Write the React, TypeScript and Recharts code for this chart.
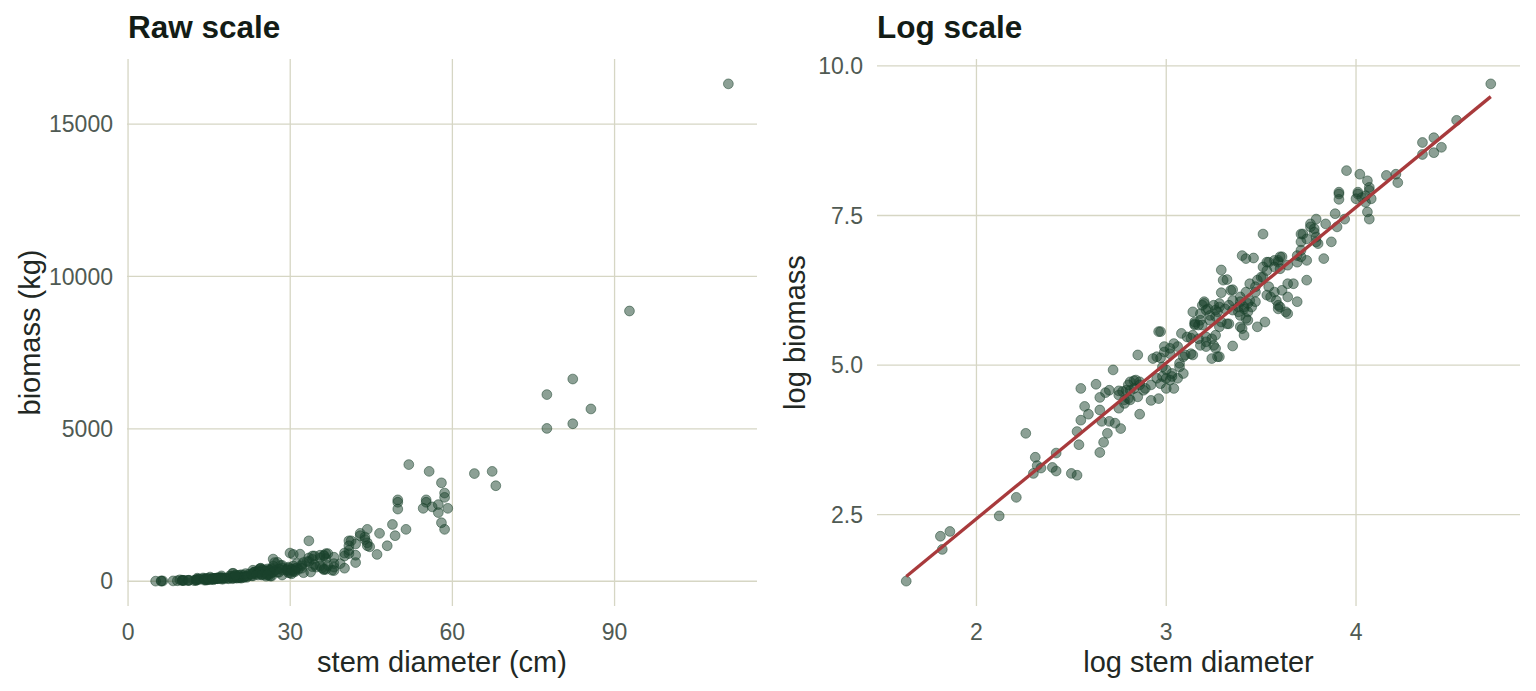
import React from 'react';
import { ScatterChart, Scatter, XAxis, YAxis, ReferenceLine } from 'recharts';

// natural-log stem diameter and biomass, one entry per tree (same order in both)
const logDiameter = [
  1.63, 1.81, 1.86, 1.82, 2.12, 2.21, 2.26, 2.31, 2.32, 2.30,
  2.34, 2.40, 2.42, 2.42, 2.50, 2.53, 2.53, 2.54, 2.55, 2.55,
  2.57, 2.59, 2.63, 2.65, 2.65, 2.65, 2.67, 2.69, 2.66, 2.70,
  2.73, 2.76, 2.75, 2.78, 2.80, 2.86, 2.72, 2.68, 2.70, 2.75,
  2.80, 2.83, 2.86, 2.81, 2.89, 2.92, 2.96, 2.92, 2.95, 3.00,
  3.04, 3.00, 3.03, 2.85, 2.96, 2.97, 2.95, 2.97, 2.93, 2.99,
  3.02, 3.04, 3.06, 3.08, 3.11, 3.14, 3.15, 3.17, 2.98, 3.00,
  3.03, 2.98, 3.02, 3.06, 2.97, 3.07, 3.10, 3.13, 3.09, 2.81,
  2.84, 2.86, 2.83, 2.88, 2.79, 2.77, 2.75, 2.78, 2.81, 2.85,
  3.51, 3.40, 3.42, 3.46, 3.29, 3.32, 3.34, 3.29, 3.35, 3.35,
  3.28, 3.31, 3.26, 3.20, 3.19, 3.14, 3.15, 3.18, 3.21, 3.23,
  3.26, 3.28, 3.32, 3.26, 3.21, 3.24, 3.35, 3.26, 3.27, 3.24,
  3.28, 3.21, 3.18, 3.14, 3.02, 2.99, 3.07, 3.09, 3.39, 3.38,
  3.41, 3.43, 3.44, 3.39, 3.42, 3.39, 3.41, 3.48, 3.52, 3.47,
  3.44, 3.48, 3.51, 3.54, 3.59, 3.61, 3.55, 3.53, 3.57, 3.59,
  3.63, 3.61, 3.64, 3.54, 3.95, 4.02, 4.06, 4.07, 4.16, 4.21,
  4.22, 3.91, 3.91, 4.01, 4.00, 4.03, 4.05, 4.08, 4.06, 4.07,
  3.89, 3.79, 3.84, 3.90, 3.76, 3.71, 3.78, 3.79, 3.80, 3.87,
  3.74, 3.83, 3.74, 3.71, 3.69, 3.59, 3.53, 3.74, 3.67, 3.69,
  3.51, 3.53, 4.71, 4.53, 4.35, 4.41, 4.45, 4.41, 4.35, 3.30,
  3.42, 3.50, 3.47, 3.57, 3.60, 3.64, 3.58, 3.64, 3.60, 3.64,
  3.59, 3.39, 3.45, 3.41, 3.43, 3.38, 3.35, 3.47, 3.33, 3.20,
  3.22, 3.25, 3.28, 3.27, 3.18, 3.15, 3.19, 3.23, 3.29, 3.33,
  3.40, 3.43, 3.13, 3.17, 3.21, 3.25, 4.05, 3.94, 3.76, 3.78,
  3.72, 3.71, 3.79, 3.71, 3.69, 3.60, 3.57, 4.07, 3.91, 4.01,
];

const logBiomass = [
  1.39, 2.14, 2.22, 1.92, 2.48, 2.79, 3.86, 3.46, 3.32, 3.19,
  3.28, 3.29, 3.53, 3.23, 3.19, 3.16, 3.89, 3.67, 4.61, 4.08,
  4.31, 4.18, 4.68, 4.46, 4.25, 3.54, 3.71, 3.86, 4.06, 4.06,
  4.03, 3.94, 4.28, 4.36, 4.44, 4.18, 4.92, 4.54, 4.58, 4.57,
  4.67, 4.74, 4.72, 4.58, 4.61, 4.41, 4.44, 4.67, 4.78, 4.61,
  4.61, 4.78, 4.81, 5.17, 5.56, 5.56, 5.14, 5.12, 5.11, 5.22,
  5.28, 5.36, 5.31, 5.53, 5.47, 5.50, 5.67, 5.67, 4.97, 4.92,
  4.86, 4.81, 4.75, 4.78, 4.69, 5.03, 5.17, 5.19, 4.86, 4.72,
  4.75, 4.67, 4.61, 4.58, 4.58, 4.56, 4.50, 4.42, 4.42, 4.47,
  7.19, 6.83, 6.78, 6.79, 6.59, 6.43, 6.25, 6.21, 6.26, 6.08,
  5.97, 5.94, 5.92, 6.06, 6.00, 5.89, 5.69, 5.75, 5.92, 5.83,
  5.81, 5.64, 5.69, 5.50, 5.47, 5.44, 5.32, 5.28, 5.14, 5.11,
  5.14, 5.31, 5.33, 5.17, 5.19, 5.31, 4.97, 5.14, 6.14, 5.97,
  5.97, 6.03, 6.08, 5.83, 5.78, 5.64, 5.50, 5.64, 5.72, 6.22,
  6.36, 6.42, 6.64, 6.72, 6.75, 6.81, 6.14, 6.17, 6.22, 5.94,
  5.89, 6.25, 6.36, 6.31, 8.25, 8.19, 8.08, 7.97, 8.17, 8.19,
  8.05, 7.86, 7.77, 7.86, 7.78, 7.80, 7.83, 7.78, 7.56, 7.44,
  7.53, 7.44, 7.36, 7.31, 7.31, 7.19, 7.22, 7.14, 7.03, 7.06,
  7.11, 6.78, 6.75, 6.81, 6.72, 6.72, 6.72, 6.42, 6.36, 6.06,
  6.47, 6.58, 9.70, 9.09, 8.72, 8.80, 8.64, 8.55, 8.52, 6.42,
  6.22, 6.47, 6.31, 6.64, 6.61, 6.67, 6.08, 6.14, 5.97, 5.86,
  6.00, 6.06, 5.97, 5.94, 5.89, 5.89, 5.92, 6.06, 6.00, 6.03,
  5.94, 6.00, 6.03, 5.89, 5.86, 5.72, 5.67, 5.75, 5.72, 5.69,
  5.61, 5.75, 5.45, 5.44, 5.39, 5.33, 7.72, 7.44, 7.36, 7.28,
  7.19, 7.06, 7.06, 6.92, 6.83, 6.81, 6.75, 7.92, 7.89, 7.89,
];

const rawXTicks = [0, 30, 60, 90];
const rawYTicks = [0, 5000, 10000, 15000];
const logXTicks = [2, 3, 4];
const logYTicks = [2.5, 5, 7.5, 10];

const FONT = '"Liberation Sans", Arial, Helvetica, sans-serif';
const POINT = '#1a422b';
const FIT = '#a83a3c';
const GRID = '#d6d6c4';
const TICK = '#4f5a53';
const AXIS_TITLE = '#222824';
const HEIGHT = 691;

type Pt = { x: number; y: number };

const logData: Pt[] = logDiameter.map((x, i) => ({ x, y: logBiomass[i] }));
const rawData: Pt[] = logData.map((d) => ({ x: Math.exp(d.x), y: Math.exp(d.y) }));

// ordinary least squares, drawn across the observed x range
function fitLine(pts: Pt[]): Pt[] {
  const n = pts.length;
  const mx = pts.reduce((s, p) => s + p.x, 0) / n;
  const my = pts.reduce((s, p) => s + p.y, 0) / n;
  let sxy = 0;
  let sxx = 0;
  pts.forEach((p) => {
    sxy += (p.x - mx) * (p.y - my);
    sxx += (p.x - mx) * (p.x - mx);
  });
  const slope = sxy / sxx;
  const xs = pts.map((p) => p.x);
  const x0 = Math.min(...xs);
  const x1 = Math.max(...xs);
  return [
    { x: x0, y: my + slope * (x0 - mx) },
    { x: x1, y: my + slope * (x1 - mx) },
  ];
}

// 5% padding on each side, like ggplot's default continuous expansion
function padded(values: number[]): [number, number] {
  const lo = Math.min(...values);
  const hi = Math.max(...values);
  const pad = (hi - lo) * 0.05;
  return [lo - pad, hi + pad];
}

const Dot = (props: any) => (
  <circle
    cx={props.cx}
    cy={props.cy}
    r={4.9}
    fill={POINT}
    fillOpacity={0.5}
    stroke={POINT}
    strokeOpacity={0.5}
    strokeWidth={1}
  />
);

const tickStyle = { fill: TICK, fontSize: 23, fontFamily: FONT };
const titleStyle = { fill: AXIS_TITLE, fontSize: 29, fontFamily: FONT };

interface PanelProps {
  data: Pt[];
  fit?: Pt[];
  left: number;
  width: number;
  yAxisWidth: number;
  rightMargin: number;
  xTicks: number[];
  yTicks: number[];
  xLabel: string;
  yLabel: string;
  yLabelOffset: number;
  yFormat?: (v: number) => string;
}

const Panel: React.FC<PanelProps> = ({
  data, fit, left, width, yAxisWidth, rightMargin,
  xTicks, yTicks, xLabel, yLabel, yLabelOffset, yFormat,
}) => (
  <div style={{ position: 'absolute', left, top: 0 }}>
    <ScatterChart
      width={width}
      height={HEIGHT}
      margin={{ top: 59, right: rightMargin, bottom: 0, left: 0 }}
    >
      <XAxis
        type="number"
        dataKey="x"
        domain={padded(data.map((d) => d.x))}
        ticks={xTicks}
        axisLine={false}
        tickLine={false}
        tickMargin={12}
        height={85}
        tick={tickStyle}
        label={{ value: xLabel, position: 'insideBottom', offset: 19, style: titleStyle }}
      />
      <YAxis
        type="number"
        dataKey="y"
        domain={padded(data.map((d) => d.y))}
        ticks={yTicks}
        axisLine={false}
        tickLine={false}
        tickMargin={8}
        width={yAxisWidth}
        tick={tickStyle}
        tickFormatter={yFormat}
        label={{
          value: yLabel,
          angle: -90,
          position: 'insideLeft',
          offset: yLabelOffset,
          style: { ...titleStyle, textAnchor: 'middle' },
        }}
      />
      {/* major grid only, no panel border */}
      {xTicks.map((t) => (
        <ReferenceLine key={`gx-${t}`} x={t} stroke={GRID} strokeWidth={1.3} />
      ))}
      {yTicks.map((t) => (
        <ReferenceLine key={`gy-${t}`} y={t} stroke={GRID} strokeWidth={1.3} />
      ))}
      <Scatter data={data} shape={Dot} isAnimationActive={false} />
      {fit && (
        <Scatter
          data={fit}
          line={{ stroke: FIT, strokeWidth: 3.3 }}
          shape={() => null}
          isAnimationActive={false}
        />
      )}
    </ScatterChart>
  </div>
);

export default function App() {
  return (
    <div
      style={{
        position: 'absolute',
        left: 0,
        top: 0,
        width: 1536,
        height: HEIGHT,
        background: '#fff',
        fontFamily: FONT,
      }}
    >
      <Panel
        data={rawData}
        left={0}
        width={760}
        yAxisWidth={127}
        rightMargin={3}
        xTicks={rawXTicks}
        yTicks={rawYTicks}
        xLabel="stem diameter (cm)"
        yLabel="biomass (kg)"
        yLabelOffset={30}
      />
      <Panel
        data={logData}
        fit={fitLine(logData)}
        left={760}
        width={776}
        yAxisWidth={117}
        rightMargin={16}
        xTicks={logXTicks}
        yTicks={logYTicks}
        xLabel="log stem diameter"
        yLabel="log biomass"
        yLabelOffset={35}
        yFormat={(v) => v.toFixed(1)}
      />
      <svg
        width={1536}
        height={50}
        style={{ position: 'absolute', left: 0, top: 0 }}
      >
        <text x={128} y={38} fontFamily={FONT} fontSize={31.5} fontWeight="bold" fill="#131c16">
          Raw scale
        </text>
        <text x={877} y={38} fontFamily={FONT} fontSize={31.5} fontWeight="bold" fill="#131c16">
          Log scale
        </text>
      </svg>
    </div>
  );
}
